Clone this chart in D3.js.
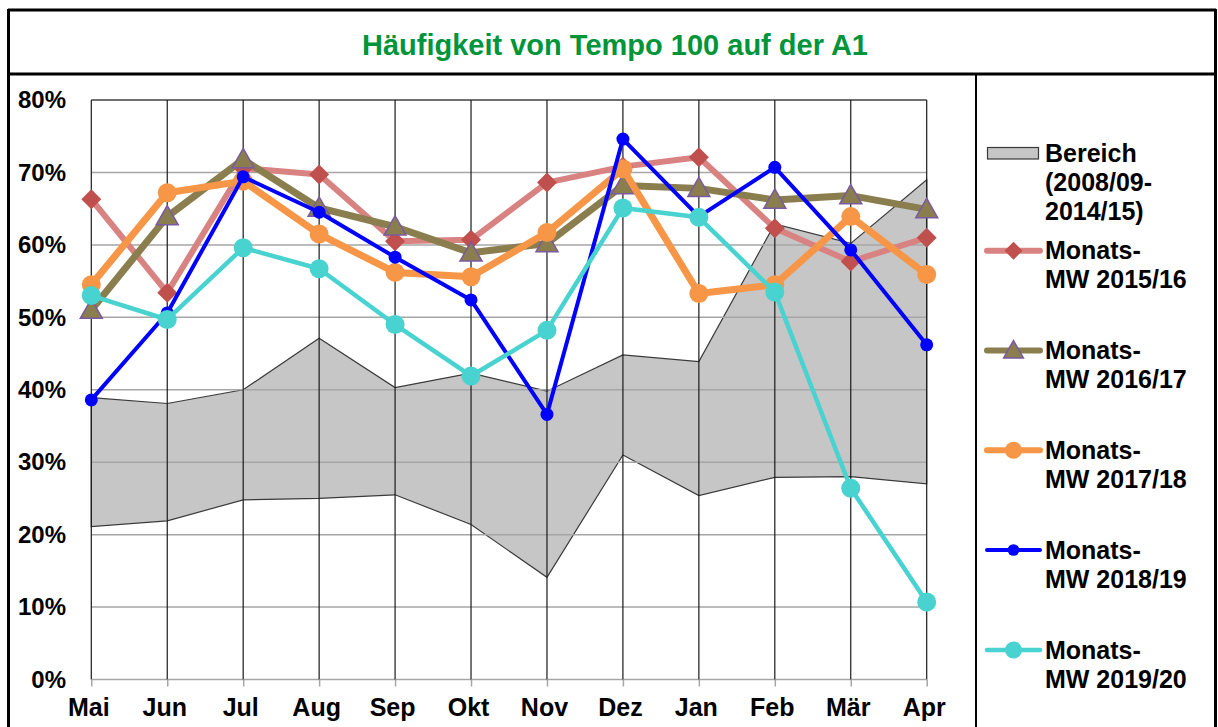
<!DOCTYPE html>
<html><head><meta charset="utf-8">
<script src="https://cdn.jsdelivr.net/npm/d3@7"></script>
<style>body{margin:0;background:#fff}svg{display:block}text{font-family:"Liberation Sans",Arial,sans-serif;font-weight:bold}</style>
</head><body><svg id="c" width="1218" height="727"></svg>
<script>
const months = ["Mai","Jun","Jul","Aug","Sep","Okt","Nov","Dez","Jan","Feb","Mär","Apr"];
const yTicks = [0,10,20,30,40,50,60,70,80];
const bandLow  = [21.1,21.9,24.8,25.0,25.5,21.4,14.1,31.0,25.4,27.9,28.0,27.0];
const bandHigh = [38.9,38.1,40.0,47.1,40.3,42.3,39.8,44.8,43.9,62.9,60.2,69.0];
const mw1516 = [66.3,53.4,70.6,69.7,60.5,60.7,68.6,70.8,72.1,62.3,57.7,61.0];
const mw1617 = [51.0,63.9,71.8,65.1,62.5,58.9,60.2,68.2,67.8,66.2,66.8,64.9];
const mw1718 = [54.5,67.2,68.8,61.5,56.2,55.6,61.7,70.5,53.3,54.5,63.9,55.9];
const mw1819 = [38.6,50.6,69.4,64.5,58.3,52.4,36.6,74.6,63.9,70.7,59.3,46.2];
const mw1920 = [53.0,49.7,59.6,56.7,49.0,41.9,48.2,65.1,63.8,53.5,26.4,10.7];
const bandLabel = ["Bereich","(2008/09-","2014/15)"];
const seriesNames = ["2015/16","2016/17","2017/18","2018/19","2019/20"];
const title = "Häufigkeit von Tempo 100 auf der A1";

const series = [
  {name:seriesNames[0], values:mw1516, color:"#d98282", width:6, marker:"diamond", mfill:"#c0504d", mstroke:"none", size:10},
  {name:seriesNames[1], values:mw1617, color:"#8a7e4e", width:7, marker:"triangle", mfill:"#8a7d4e", mstroke:"#7a5aa0", size:11},
  {name:seriesNames[2], values:mw1718, color:"#f79646", width:7, marker:"circle", mfill:"#f79646", mstroke:"none", size:9.5},
  {name:seriesNames[3], values:mw1819, color:"#0000ff", width:4, marker:"circle", mfill:"#0000ff", mstroke:"none", size:6.5},
  {name:seriesNames[4], values:mw1920, color:"#48d3d0", width:4.5, marker:"circle", mfill:"#48d3d0", mstroke:"none", size:9.5}
];

const svg = d3.select("#c");
// frame
const frame = svg.append("g").attr("stroke","#000").attr("stroke-width",3).attr("fill","none");
frame.append("line").attr("x1",8.5).attr("x2",8.5).attr("y1",9).attr("y2",727);
frame.append("line").attr("x1",1215.5).attr("x2",1215.5).attr("y1",9).attr("y2",727);
frame.append("line").attr("x1",8).attr("x2",1216).attr("y1",10).attr("y2",10);
frame.append("line").attr("x1",8).attr("x2",1216).attr("y1",74).attr("y2",74);
frame.append("line").attr("x1",976).attr("x2",976).attr("y1",74).attr("y2",727).attr("stroke-width",2);

svg.append("text").attr("x",615).attr("y",55).attr("text-anchor","middle")
  .attr("font-size",29).attr("fill","#00953a").text(title);

const x = d3.scalePoint().domain(months).range([91.3,926.7]);
const y = d3.scaleLinear().domain([0,80]).range([679.5,100]);

// band
const area = d3.area().x((d,i)=>x(months[i])).y0((d,i)=>y(bandLow[i])).y1(d=>y(d));
svg.append("path").datum(bandHigh).attr("d",area).attr("fill","#c6c6c6").attr("stroke","#3a3a3a").attr("stroke-width",1.2);

// grid
const grid = svg.append("g");
grid.selectAll("line.h").data(yTicks.slice(0,-1)).join("line")
  .attr("x1",x.range()[0]).attr("x2",x.range()[1]).attr("y1",d=>y(d)).attr("y2",d=>y(d))
  .attr("stroke","#a6a6a6").attr("stroke-width",1.5);
grid.append("line").attr("x1",x.range()[0]).attr("x2",x.range()[1]).attr("y1",y(80)).attr("y2",y(80))
  .attr("stroke","#404040").attr("stroke-width",1.5);
grid.selectAll("line.v").data(months).join("line")
  .attr("x1",d=>x(d)).attr("x2",d=>x(d)).attr("y1",y(80)).attr("y2",y(0))
  .attr("stroke","#1a1a1a").attr("stroke-width",1.2);

// axes
const xAxis = svg.append("g").attr("transform",`translate(0,${y(0)})`)
  .call(d3.axisBottom(x).tickSize(7).tickPadding(12));
xAxis.select(".domain").remove();
xAxis.selectAll(".tick line").attr("stroke","#a6a6a6").attr("stroke-width",1.5);
xAxis.selectAll(".tick text").attr("font-size",25).attr("font-family","Liberation Sans, Arial").attr("font-weight","bold")
  .attr("fill","#000").attr("dx",-3).attr("dy","0.68em");

const yAxis = svg.append("g").attr("transform",`translate(66,0)`)
  .call(d3.axisLeft(y).tickValues(yTicks).tickFormat(d=>d+"%").tickSize(0).tickPadding(0));
yAxis.select(".domain").remove();
yAxis.selectAll(".tick text").attr("font-size",24).attr("font-family","Liberation Sans, Arial").attr("font-weight","bold").attr("fill","#000");

function drawMarker(g, s, cx, cy, scale){
  const k = scale||1;
  if(s.marker==="circle"){
    g.append("circle").attr("cx",cx).attr("cy",cy).attr("r",s.size*k).attr("fill",s.mfill);
  } else if(s.marker==="diamond"){
    const r=s.size*k;
    g.append("path").attr("d",`M${cx},${cy-r}L${cx+r},${cy}L${cx},${cy+r}L${cx-r},${cy}Z`).attr("fill",s.mfill);
  } else {
    const r=s.size*k;
    g.append("path").attr("d",`M${cx},${cy-r}L${cx+r},${cy+r*0.75}L${cx-r},${cy+r*0.75}Z`)
      .attr("fill",s.mfill).attr("stroke",s.mstroke).attr("stroke-width",1.5);
  }
}

const line = d3.line().x((d,i)=>x(months[i])).y(d=>y(d));
series.forEach(s=>{
  const g = svg.append("g");
  g.append("path").datum(s.values).attr("d",line).attr("fill","none")
    .attr("stroke",s.color).attr("stroke-width",s.width).attr("stroke-linejoin","round");
  s.values.forEach((v,i)=>drawMarker(g,s,x(months[i]),y(v)));
});

// legend
const lg = svg.append("g");
const lx0 = 987, lx1 = 1040, tx = 1045, fs = 25;
lg.append("rect").attr("x",987.5).attr("y",147.5).attr("width",51).attr("height",11.5)
  .attr("fill","#c6c6c6").attr("stroke","#3a3a3a").attr("stroke-width",1.2);
bandLabel.forEach((t,i)=>lg.append("text").attr("x",tx).attr("y",161.5+i*29.2).attr("font-size",fs).attr("fill","#000").text(t));
const legY = [250.7,350.5,450.3,550,650];
series.forEach((s,k)=>{
  const ly = legY[k];
  lg.append("line").attr("x1",lx0).attr("x2",lx1).attr("y1",ly).attr("y2",ly)
    .attr("stroke",s.color).attr("stroke-width",Math.min(s.width,6)).attr("stroke-linecap","round");
  drawMarker(lg, s, (lx0+lx1)/2, ly, 0.9);
  lg.append("text").attr("x",tx).attr("y",ly+8.5).attr("font-size",fs).attr("fill","#000").text("Monats-");
  lg.append("text").attr("x",tx).attr("y",ly+37.5).attr("font-size",fs).attr("fill","#000").text("MW "+s.name);
});
</script></body></html>
